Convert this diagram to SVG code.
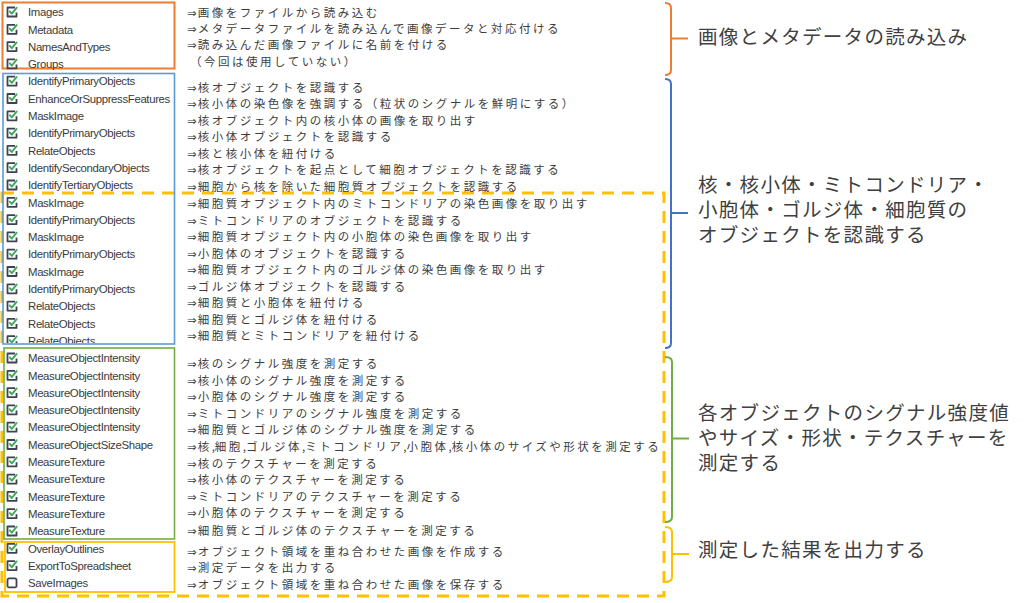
<svg xmlns="http://www.w3.org/2000/svg" xmlns:xlink="http://www.w3.org/1999/xlink" width="1024" height="603" viewBox="0 0 1024 603">
<style>
.mod{font-family:"Liberation Sans","Noto Sans",sans-serif;font-size:11.4px;letter-spacing:-0.35px;fill:#3a3a3a}
.desc{font-family:"Noto Sans CJK JP","Noto Sans CJK SC",sans-serif;font-size:11.5px;letter-spacing:2.5px;fill:#3d3d3d}
.ar{font-family:"DejaVu Sans",sans-serif;letter-spacing:1px}
.cm{letter-spacing:0px}
.lbl{font-family:"Noto Sans CJK JP","Noto Sans CJK SC",sans-serif;font-size:19.5px;letter-spacing:1.3px;fill:#404040}
.box{fill:none}
.br{fill:none;stroke-width:2}
</style>
<defs>
<g id="cb">
<path d="M3 -4.5 H-4.5 V4.5 H4.5 V0.5" fill="none" stroke="#3d4350" stroke-width="1.8" stroke-linejoin="round"/>
<path d="M-2.2 -0.6 L-0.2 1.6 L4.6 -4.2" fill="none" stroke="#3ea859" stroke-width="1.9" stroke-linecap="round" stroke-linejoin="round"/>
</g>
<g id="ub">
<rect x="-4.5" y="-4.5" width="9" height="9" rx="1.5" fill="none" stroke="#3d4350" stroke-width="1.8"/>
</g>
<clipPath id="blueclip"><rect x="0" y="73" width="180" height="270"/></clipPath>
</defs>
<rect width="1024" height="603" fill="#ffffff"/>

<g id="dashed-frame">
<rect x="2" y="193" width="662" height="403" fill="none" stroke="#FFC000" stroke-width="3" stroke-dasharray="12 8"/>
</g>

<g id="load-modules">
<rect class="box" x="2.5" y="2.5" width="172" height="66" stroke="#ED7D31" stroke-width="2"/>
<use xlink:href="#cb" x="12" y="12"/><text class="mod" x="28" y="16.2">Images</text>
<use xlink:href="#cb" x="12" y="29.3"/><text class="mod" x="28" y="33.5">Metadata</text>
<use xlink:href="#cb" x="12" y="46.6"/><text class="mod" x="28" y="50.8">NamesAndTypes</text>
<use xlink:href="#cb" x="12" y="63.9"/><text class="mod" x="28" y="68.1">Groups</text>
</g>

<g id="identify-modules">
<rect class="box" x="3" y="73.5" width="171.5" height="270.5" stroke="#5B9BD5" stroke-width="1.6"/>
<g clip-path="url(#blueclip)">
<use xlink:href="#cb" x="12" y="81.2"/><text class="mod" x="28" y="85.4">IdentifyPrimaryObjects</text>
<use xlink:href="#cb" x="12" y="98.5"/><text class="mod" x="28" y="102.7">EnhanceOrSuppressFeatures</text>
<use xlink:href="#cb" x="12" y="115.8"/><text class="mod" x="28" y="120">MaskImage</text>
<use xlink:href="#cb" x="12" y="133.1"/><text class="mod" x="28" y="137.3">IdentifyPrimaryObjects</text>
<use xlink:href="#cb" x="12" y="150.4"/><text class="mod" x="28" y="154.6">RelateObjects</text>
<use xlink:href="#cb" x="12" y="167.7"/><text class="mod" x="28" y="171.9">IdentifySecondaryObjects</text>
<use xlink:href="#cb" x="12" y="185"/><text class="mod" x="28" y="189.2">IdentifyTertiaryObjects</text>
<use xlink:href="#cb" x="12" y="202.3"/><text class="mod" x="28" y="206.5">MaskImage</text>
<use xlink:href="#cb" x="12" y="219.6"/><text class="mod" x="28" y="223.8">IdentifyPrimaryObjects</text>
<use xlink:href="#cb" x="12" y="236.9"/><text class="mod" x="28" y="241.1">MaskImage</text>
<use xlink:href="#cb" x="12" y="254.2"/><text class="mod" x="28" y="258.4">IdentifyPrimaryObjects</text>
<use xlink:href="#cb" x="12" y="271.5"/><text class="mod" x="28" y="275.7">MaskImage</text>
<use xlink:href="#cb" x="12" y="288.8"/><text class="mod" x="28" y="293">IdentifyPrimaryObjects</text>
<use xlink:href="#cb" x="12" y="306.1"/><text class="mod" x="28" y="310.3">RelateObjects</text>
<use xlink:href="#cb" x="12" y="323.4"/><text class="mod" x="28" y="327.6">RelateObjects</text>
<use xlink:href="#cb" x="12" y="340.7"/><text class="mod" x="28" y="344.9">RelateObjects</text>
</g>
</g>

<g id="measure-modules">
<rect class="box" x="4" y="348" width="170.5" height="191" stroke="#70AD47" stroke-width="1.6"/>
<use xlink:href="#cb" x="12" y="358"/><text class="mod" x="28" y="362.2">MeasureObjectIntensity</text>
<use xlink:href="#cb" x="12" y="375.3"/><text class="mod" x="28" y="379.5">MeasureObjectIntensity</text>
<use xlink:href="#cb" x="12" y="392.6"/><text class="mod" x="28" y="396.8">MeasureObjectIntensity</text>
<use xlink:href="#cb" x="12" y="409.9"/><text class="mod" x="28" y="414.1">MeasureObjectIntensity</text>
<use xlink:href="#cb" x="12" y="427.2"/><text class="mod" x="28" y="431.4">MeasureObjectIntensity</text>
<use xlink:href="#cb" x="12" y="444.5"/><text class="mod" x="28" y="448.7">MeasureObjectSizeShape</text>
<use xlink:href="#cb" x="12" y="461.8"/><text class="mod" x="28" y="466">MeasureTexture</text>
<use xlink:href="#cb" x="12" y="479.1"/><text class="mod" x="28" y="483.3">MeasureTexture</text>
<use xlink:href="#cb" x="12" y="496.4"/><text class="mod" x="28" y="500.6">MeasureTexture</text>
<use xlink:href="#cb" x="12" y="513.7"/><text class="mod" x="28" y="517.9">MeasureTexture</text>
<use xlink:href="#cb" x="12" y="531"/><text class="mod" x="28" y="535.2">MeasureTexture</text>
</g>

<g id="output-modules">
<rect class="box" x="5" y="542" width="169.5" height="50" stroke="#FFC000" stroke-width="1.8"/>
<use xlink:href="#cb" x="12" y="548.3"/><text class="mod" x="28" y="552.5">OverlayOutlines</text>
<use xlink:href="#cb" x="12" y="565.6"/><text class="mod" x="28" y="569.8">ExportToSpreadsheet</text>
<use xlink:href="#ub" x="12" y="582.9"/><text class="mod" x="28" y="587.1">SaveImages</text>
</g>

<g id="descriptions">
<text class="desc" x="187" y="17"><tspan class="ar">⇒</tspan>画像をファイルから読み込む</text>
<text class="desc" x="187" y="32.5"><tspan class="ar">⇒</tspan>メタデータファイルを読み込んで画像データと対応付ける</text>
<text class="desc" x="187" y="49.2"><tspan class="ar">⇒</tspan>読み込んだ画像ファイルに名前を付ける</text>
<text class="desc" x="190" y="65.9">（今回は使用していない）</text>
<text class="desc" x="187" y="91.9"><tspan class="ar">⇒</tspan>核オブジェクトを認識する</text>
<text class="desc" x="187" y="108.2"><tspan class="ar">⇒</tspan>核小体の染色像を強調する（粒状のシグナルを鮮明にする）</text>
<text class="desc" x="187" y="124.7"><tspan class="ar">⇒</tspan>核オブジェクト内の核小体の画像を取り出す</text>
<text class="desc" x="187" y="141.2"><tspan class="ar">⇒</tspan>核小体オブジェクトを認識する</text>
<text class="desc" x="187" y="157.7"><tspan class="ar">⇒</tspan>核と核小体を紐付ける</text>
<text class="desc" x="187" y="174.2"><tspan class="ar">⇒</tspan>核オブジェクトを起点として細胞オブジェクトを認識する</text>
<text class="desc" x="187" y="190.7"><tspan class="ar">⇒</tspan>細胞から核を除いた細胞質オブジェクトを認識する</text>
<text class="desc" x="187" y="208.2"><tspan class="ar">⇒</tspan>細胞質オブジェクト内のミトコンドリアの染色画像を取り出す</text>
<text class="desc" x="187" y="224.7"><tspan class="ar">⇒</tspan>ミトコンドリアのオブジェクトを認識する</text>
<text class="desc" x="187" y="241.2"><tspan class="ar">⇒</tspan>細胞質オブジェクト内の小胞体の染色画像を取り出す</text>
<text class="desc" x="187" y="257.7"><tspan class="ar">⇒</tspan>小胞体のオブジェクトを認識する</text>
<text class="desc" x="187" y="274.2"><tspan class="ar">⇒</tspan>細胞質オブジェクト内のゴルジ体の染色画像を取り出す</text>
<text class="desc" x="187" y="291.2"><tspan class="ar">⇒</tspan>ゴルジ体オブジェクトを認識する</text>
<text class="desc" x="187" y="307.2"><tspan class="ar">⇒</tspan>細胞質と小胞体を紐付ける</text>
<text class="desc" x="187" y="323.7"><tspan class="ar">⇒</tspan>細胞質とゴルジ体を紐付ける</text>
<text class="desc" x="187" y="340.2"><tspan class="ar">⇒</tspan>細胞質とミトコンドリアを紐付ける</text>
<text class="desc" x="187" y="368.2"><tspan class="ar">⇒</tspan>核のシグナル強度を測定する</text>
<text class="desc" x="187" y="384.9"><tspan class="ar">⇒</tspan>核小体のシグナル強度を測定する</text>
<text class="desc" x="187" y="401.2"><tspan class="ar">⇒</tspan>小胞体のシグナル強度を測定する</text>
<text class="desc" x="187" y="417.7"><tspan class="ar">⇒</tspan>ミトコンドリアのシグナル強度を測定する</text>
<text class="desc" x="187" y="434.2"><tspan class="ar">⇒</tspan>細胞質とゴルジ体のシグナル強度を測定する</text>
<text class="desc" x="187" y="451.2"><tspan class="ar">⇒</tspan>核<tspan class="cm">,</tspan>細胞<tspan class="cm">,</tspan>ゴルジ体<tspan class="cm">,</tspan>ミトコンドリア<tspan class="cm">,</tspan>小胞体<tspan class="cm">,</tspan>核小体のサイズや形状を測定する</text>
<text class="desc" x="187" y="467.7"><tspan class="ar">⇒</tspan>核のテクスチャーを測定する</text>
<text class="desc" x="187" y="484.2"><tspan class="ar">⇒</tspan>核小体のテクスチャーを測定する</text>
<text class="desc" x="187" y="500.9"><tspan class="ar">⇒</tspan>ミトコンドリアのテクスチャーを測定する</text>
<text class="desc" x="187" y="517.2"><tspan class="ar">⇒</tspan>小胞体のテクスチャーを測定する</text>
<text class="desc" x="187" y="534.7"><tspan class="ar">⇒</tspan>細胞質とゴルジ体のテクスチャーを測定する</text>
<text class="desc" x="187" y="555.7"><tspan class="ar">⇒</tspan>オブジェクト領域を重ね合わせた画像を作成する</text>
<text class="desc" x="187" y="572.2"><tspan class="ar">⇒</tspan>測定データを出力する</text>
<text class="desc" x="187" y="589.2"><tspan class="ar">⇒</tspan>オブジェクト領域を重ね合わせた画像を保存する</text>
</g>

<g id="connectors">
<path class="br" stroke="#ED7D31" d="M665 3 Q671 3 671 8 V70 Q671 75 665 75 M671 38.5 H688"/>
<path class="br" stroke="#4472C4" d="M665 79 Q671 79 671 84 V343 Q671 348 665 348 M671 213 H688"/>
<path class="br" stroke="#70AD47" d="M665 357 Q672 357 672 362 V517 Q672 522 665 522 M672 438.5 H689"/>
<path class="br" stroke="#FFC000" d="M665 527 Q672 527 672 532 V577 Q672 582 665 582 M672 554 H689"/>
</g>

<g id="label-load">
<text class="lbl" x="698" y="44">画像とメタデータの読み込み</text>
</g>
<g id="label-identify">
<text class="lbl" x="698" y="192">核・核小体・ミトコンドリア・<tspan x="698" dy="25">小胞体・ゴルジ体・細胞質の</tspan><tspan x="698" dy="25">オブジェクトを認識する</tspan></text>
</g>
<g id="label-measure">
<text class="lbl" x="698" y="420">各オブジェクトのシグナル強度値<tspan x="698" dy="25">やサイズ・形状・テクスチャーを</tspan><tspan x="698" dy="25">測定する</tspan></text>
</g>
<g id="label-output">
<text class="lbl" x="698" y="557">測定した結果を出力する</text>
</g>
</svg>
